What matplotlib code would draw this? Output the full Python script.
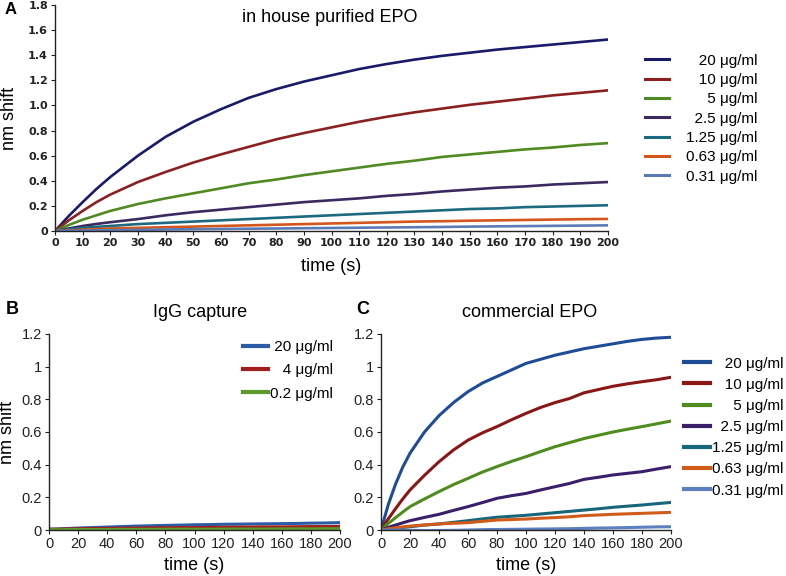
import matplotlib
matplotlib.use("Agg")
import matplotlib.pyplot as plt
from matplotlib.ticker import FuncFormatter, MultipleLocator

plt.rcParams["font.family"] = ["Liberation Sans", "DejaVu Sans"]

# ---------------- data ----------------
time_s = [0, 5, 10, 15, 20, 30, 40, 50, 60, 70, 80, 90, 100,
          110, 120, 130, 140, 150, 160, 170, 180, 190, 200]

FS = "\u2007"   # figure space (digit width)
PS = "\u2008"   # punctuation space (period width)

labels_A = [FS + PS + "20 μg/ml", FS + PS + "10 μg/ml", FS + FS + PS + "5 μg/ml",
            FS + "2.5 μg/ml", "1.25 μg/ml", "0.63 μg/ml", "0.31 μg/ml"]
a_20 = [0, 0.12, 0.23, 0.335, 0.43, 0.60, 0.75, 0.87, 0.97, 1.06, 1.13, 1.19, 1.24,
        1.29, 1.33, 1.365, 1.395, 1.42, 1.445, 1.465, 1.485, 1.505, 1.525]
a_10 = [0, 0.085, 0.16, 0.23, 0.29, 0.39, 0.47, 0.545, 0.61, 0.67, 0.73, 0.78, 0.825,
        0.87, 0.91, 0.945, 0.975, 1.005, 1.03, 1.055, 1.08, 1.10, 1.12]
a_5 = [0, 0.048, 0.09, 0.125, 0.16, 0.215, 0.26, 0.30, 0.34, 0.38, 0.41, 0.445, 0.475,
       0.505, 0.535, 0.56, 0.59, 0.61, 0.63, 0.65, 0.665, 0.685, 0.70]
a_2p5 = [0, 0.02, 0.04, 0.056, 0.07, 0.095, 0.125, 0.15, 0.17, 0.19, 0.21, 0.23, 0.245,
         0.26, 0.28, 0.295, 0.315, 0.33, 0.345, 0.355, 0.37, 0.38, 0.39]
a_1p25 = [0, 0.013, 0.025, 0.033, 0.04, 0.055, 0.065, 0.075, 0.085, 0.095, 0.105, 0.115, 0.125,
          0.135, 0.145, 0.155, 0.165, 0.175, 0.18, 0.19, 0.195, 0.20, 0.205]
a_0p63 = [0, 0.005, 0.01, 0.015, 0.02, 0.025, 0.03, 0.035, 0.04, 0.045, 0.05, 0.055, 0.06,
          0.065, 0.07, 0.075, 0.078, 0.082, 0.085, 0.088, 0.091, 0.094, 0.096]
a_0p31 = [0, 0.0015, 0.003, 0.0045, 0.006, 0.009, 0.012, 0.014, 0.016, 0.018, 0.02, 0.022, 0.024,
          0.026, 0.028, 0.03, 0.032, 0.035, 0.037, 0.039, 0.041, 0.043, 0.045]

labels_B = [PS + "20 μg/ml", FS + PS + "4 μg/ml", "0.2 μg/ml"]
b_20 = [0.005, 0.006, 0.008, 0.010, 0.012, 0.015, 0.018, 0.021, 0.024, 0.026, 0.028, 0.030, 0.032,
        0.033, 0.035, 0.036, 0.037, 0.038, 0.039, 0.040, 0.042, 0.043, 0.045]
b_4 = [0.005, 0.005, 0.006, 0.007, 0.008, 0.009, 0.010, 0.011, 0.012, 0.013, 0.014, 0.015, 0.015,
       0.016, 0.017, 0.018, 0.018, 0.019, 0.019, 0.020, 0.021, 0.021, 0.022]
b_0p2 = [0.002, 0.002, 0.002, 0.003, 0.003, 0.003, 0.003, 0.004, 0.004, 0.004, 0.005, 0.005, 0.005,
         0.005, 0.006, 0.006, 0.006, 0.006, 0.007, 0.007, 0.007, 0.008, 0.008]

labels_C = labels_A
c_20 = [0, 0.155, 0.28, 0.385, 0.47, 0.60, 0.70, 0.78, 0.847, 0.90, 0.94, 0.98, 1.02,
        1.045, 1.07, 1.09, 1.11, 1.125, 1.14, 1.155, 1.167, 1.175, 1.18]
c_10 = [0, 0.068, 0.13, 0.19, 0.245, 0.335, 0.418, 0.49, 0.55, 0.595, 0.633, 0.675, 0.714,
        0.75, 0.78, 0.805, 0.84, 0.86, 0.88, 0.895, 0.908, 0.92, 0.935]
c_5 = [0, 0.04, 0.075, 0.11, 0.143, 0.19, 0.235, 0.278, 0.316, 0.355, 0.388, 0.42, 0.449,
       0.48, 0.51, 0.535, 0.56, 0.58, 0.60, 0.617, 0.633, 0.65, 0.667]
c_2p5 = [0, 0.016, 0.03, 0.044, 0.057, 0.077, 0.096, 0.12, 0.143, 0.168, 0.194, 0.21, 0.224,
         0.245, 0.265, 0.285, 0.31, 0.323, 0.337, 0.347, 0.357, 0.373, 0.388]
c_1p25 = [0, 0.005, 0.01, 0.015, 0.02, 0.03, 0.037, 0.047, 0.057, 0.068, 0.078, 0.084, 0.09,
          0.098, 0.106, 0.114, 0.122, 0.13, 0.139, 0.146, 0.153, 0.161, 0.169]
c_0p63 = [0, 0.007, 0.013, 0.019, 0.024, 0.031, 0.037, 0.041, 0.045, 0.053, 0.061, 0.064, 0.067,
          0.072, 0.076, 0.081, 0.088, 0.092, 0.096, 0.099, 0.102, 0.105, 0.108]
c_0p31 = [0, 0.0, 0.0, -0.001, -0.002, -0.003, -0.003, -0.002, 0.0, 0.002, 0.003, 0.004, 0.005,
          0.006, 0.007, 0.008, 0.010, 0.012, 0.013, 0.015, 0.017, 0.019, 0.020]

colors_A = ["#1a1a6a", "#8b2020", "#4f8a22", "#3b2a60", "#1d6a80", "#d4561c", "#5a7ab8"]
colors_B = ["#2c5ca6", "#a11f1f", "#5c9a2a"]
colors_C = ["#1f4c96", "#8a1616", "#4e8c1e", "#3a1f6a", "#17667a", "#d15c1a", "#5b7fbf"]

# ---------------- figure ----------------
fig = plt.figure(figsize=(7.86, 5.76), dpi=100)
W, H = 786.0, 576.0


def axes_px(x0, x1, ytop, ybot):
    return fig.add_axes([x0 / W, 1 - ybot / H, (x1 - x0) / W, (ybot - ytop) / H])


def style(ax):
    for s in ("top", "right"):
        ax.spines[s].set_visible(False)
    for s in ("left", "bottom"):
        ax.spines[s].set_linewidth(1.0)
        ax.spines[s].set_color("#222222")
    ax.tick_params(direction="out", length=3, width=0.8, colors="#222222", pad=2)


# Panel A
axA = axes_px(55, 608, 5, 231)
style(axA)
seriesA = [a_20, a_10, a_5, a_2p5, a_1p25, a_0p63, a_0p31]
for ys, c, lab in zip(seriesA, colors_A, labels_A):
    axA.plot(time_s, ys, color=c, lw=1.9, label=lab)
axA.set_xlim(0, 200)
axA.set_ylim(0, 1.8)
axA.xaxis.set_major_locator(MultipleLocator(10))
axA.yaxis.set_major_locator(MultipleLocator(0.2))
axA.yaxis.set_major_formatter(FuncFormatter(lambda v, p: "0" if abs(v) < 1e-9 else f"{v:.1f}"))
for lab in axA.get_xticklabels() + axA.get_yticklabels():
    lab.set_fontweight("bold")
    lab.set_fontsize(8)
    lab.set_family("DejaVu Sans")
axA.set_xlabel("time (s)", fontsize=13, labelpad=7)
axA.set_ylabel("nm shift", fontsize=13, labelpad=7)
axA.set_title("in house purified EPO", fontsize=13, pad=0, y=0.926, x=0.497)
legA = axA.legend(loc="upper left", bbox_to_anchor=(1.067, 0.785), frameon=False,
                  fontsize=11, handlelength=1.6, handletextpad=1.1,
                  labelspacing=0.35, borderaxespad=0, borderpad=0)
for ln in legA.get_lines():
    ln.set_linewidth(2.2)

# Panel B
axB = axes_px(49, 340, 334, 530)
style(axB)
seriesB = [b_20, b_4, b_0p2]
for ys, c, lab in zip(seriesB, colors_B, labels_B):
    axB.plot(time_s, ys, color=c, lw=2.2, label=lab)
axB.set_xlim(0, 200)
axB.set_ylim(0, 1.2)
axB.xaxis.set_major_locator(MultipleLocator(20))
axB.yaxis.set_major_locator(MultipleLocator(0.2))
axB.yaxis.set_major_formatter(FuncFormatter(lambda v, p: f"{v:g}"))
axB.tick_params(labelsize=10.5)
axB.set_xlabel("time (s)", fontsize=13, labelpad=4)
axB.set_ylabel("nm shift", fontsize=13, labelpad=4)
axB.set_title("IgG capture", fontsize=13, pad=0, y=1.087, x=0.519)
legB = axB.legend(loc="upper right", bbox_to_anchor=(0.976, 0.97), frameon=False,
                  fontsize=11, handlelength=1.65, handletextpad=0.15,
                  labelspacing=0.62, borderaxespad=0, borderpad=0)
for ln in legB.get_lines():
    ln.set_linewidth(3)

# Panel C
axC = axes_px(381, 671, 334, 530)
style(axC)
seriesC = [c_20, c_10, c_5, c_2p5, c_1p25, c_0p63, c_0p31]
for ys, c, lab in zip(seriesC, colors_C, labels_C):
    axC.plot(time_s, ys, color=c, lw=2.2, label=lab)
axC.set_xlim(0, 200)
axC.set_ylim(0, 1.2)
axC.xaxis.set_major_locator(MultipleLocator(20))
axC.yaxis.set_major_locator(MultipleLocator(0.2))
axC.yaxis.set_major_formatter(FuncFormatter(lambda v, p: f"{v:g}"))
axC.tick_params(labelsize=10.5)
axC.set_xlabel("time (s)", fontsize=13, labelpad=4)
axC.set_title("commercial EPO", fontsize=13, pad=0, y=1.087, x=0.514)
legC = axC.legend(loc="upper left", bbox_to_anchor=(1.045, 0.885), frameon=False,
                  fontsize=11, handlelength=1.7, handletextpad=0.15,
                  labelspacing=0.47, borderaxespad=0, borderpad=0)
for ln in legC.get_lines():
    ln.set_linewidth(3)

# panel letters
fig.text(5 / W, 1 - 10 / H, "A", fontsize=12, fontweight="bold", va="center", ha="left")
fig.text(6 / W, 1 - 309 / H, "B", fontsize=13, fontweight="bold", va="center", ha="left")
fig.text(356 / W, 1 - 309 / H, "C", fontsize=13, fontweight="bold", va="center", ha="left")

fig.savefig("out.png", dpi=100)
